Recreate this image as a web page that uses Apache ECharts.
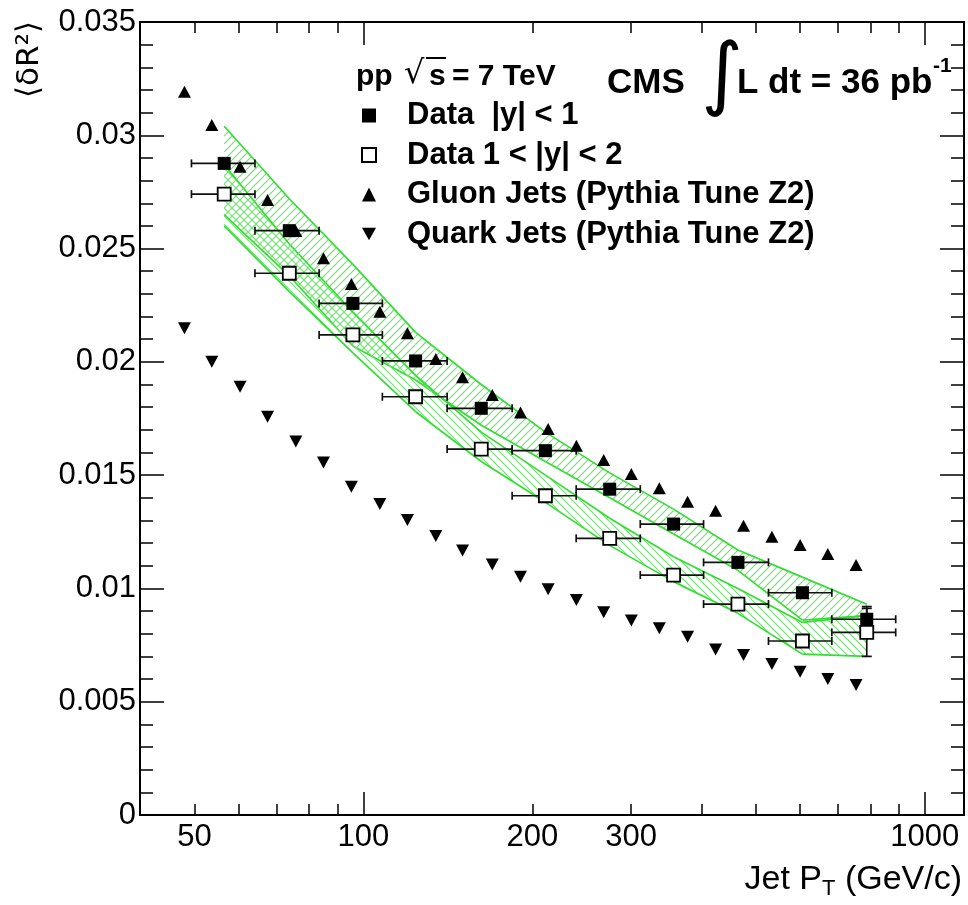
<!DOCTYPE html>
<html><head><meta charset="utf-8">
<script src="https://cdn.jsdelivr.net/npm/echarts@6/dist/echarts.min.js"></script>
<style>html,body{margin:0;padding:0;background:#fff}#c{width:968px;height:905px}</style>
</head><body><div id="c"></div>
<script>
// ---------- data ----------
const dataPt      = [56.5, 73.8, 95.8, 123.9, 162.2, 211.0, 274.7, 357.0, 464.8, 605.6, 788.5];
const dataPtLow   = [49.4, 64.1, 83.4, 108.1, 141.0, 184.1, 239.4, 311.4, 403.7, 526.9, 683.2];
const dataPtHigh  = [64.1, 83.4, 108.1, 141.0, 184.1, 239.4, 311.4, 403.7, 526.9, 683.2, 887.9];
const dataCentral    = [0.02876, 0.02579, 0.02258, 0.02004, 0.01795, 0.01608, 0.01438, 0.01284, 0.01115, 0.00981, 0.00864];
const dataCentralErr = [0.0002, 0.0002, 0.0002, 0.0002, 0.0002, 0.0002, 0.0002, 0.0002, 0.0002, 0.0002, 0.00056];
const dataForward    = [0.02740, 0.02391, 0.02119, 0.01846, 0.01615, 0.01409, 0.01221, 0.01059, 0.00931, 0.00768, 0.00806];
const dataForwardErr = [0.0002, 0.0002, 0.0002, 0.0002, 0.0002, 0.0002, 0.0002, 0.0002, 0.0002, 0.0002, 0.00106];
const sysCentralHigh = [0.0304, 0.0272, 0.0243, 0.0213, 0.0190, 0.0169, 0.0151, 0.0135, 0.0117, 0.0105, 0.0093];
const sysCentralLow  = [0.0265, 0.0238, 0.0207, 0.0192, 0.0172, 0.0156, 0.0140, 0.0124, 0.0108, 0.0086, 0.0088];
const sysForwardHigh = [0.0287, 0.0252, 0.0222, 0.0194, 0.0169, 0.0150, 0.0131, 0.0114, 0.0100, 0.0085, 0.0088];
const sysForwardLow  = [0.0260, 0.0231, 0.0204, 0.0178, 0.0156, 0.0138, 0.0119, 0.0103, 0.0089, 0.0071, 0.0070];
const mcPt      = [48.0, 53.7, 60.3, 67.5, 75.8, 84.9, 95.2, 107.0, 119.8, 134.6, 150.2, 169.7, 190.5, 213.4, 239.6, 268.0, 300.2, 336.7, 378.1, 424.1, 475.6, 534.3, 599.9, 672.1, 754.6];
const gluonJets = [0.03192, 0.03045, 0.02861, 0.02714, 0.02578, 0.02457, 0.02344, 0.02221, 0.02126, 0.02013, 0.01932, 0.01854, 0.01777, 0.01704, 0.01630, 0.01567, 0.01505, 0.01442, 0.01383, 0.01343, 0.01277, 0.01228, 0.01192, 0.01152, 0.01103];
const quarkJets = [0.02148, 0.02001, 0.01890, 0.01758, 0.01648, 0.01556, 0.01449, 0.01373, 0.01302, 0.01231, 0.01167, 0.01106, 0.01052, 0.00996, 0.00949, 0.00895, 0.00858, 0.00824, 0.00787, 0.00731, 0.00706, 0.00666, 0.00632, 0.00600, 0.00574];
const xTickLabels = [50, 100, 200, 300, 1000];
const xMajorTicks = [100, 1000];
const xMinorTicks = [50, 60, 70, 80, 90, 200, 300, 400, 500, 600, 700, 800, 900];
const seriesNames = ['Data  |y| < 1', 'Data 1 < |y| < 2', 'Gluon Jets (Pythia Tune Z2)', 'Quark Jets (Pythia Tune Z2)'];
const X_MIN = 40, X_MAX = 1175, Y_MIN = 0, Y_MAX = 0.035;

// ---------- helpers ----------
const L = v => Math.log10(v);
const FONT = "'Liberation Sans', Arial, Helvetica, sans-serif";
const GREEN = '#33dd33';
const HATCH = '#6ee06e';

// interval of x in [x0,x1] where A + B*(x-x0) >= 0
function halfInterval(A, B, x0, x1) {
  if (Math.abs(B) < 1e-12) return A >= 0 ? [x0, x1] : null;
  const r = x0 - A / B;
  return B > 0 ? [Math.max(x0, r), x1] : [x0, Math.min(x1, r)];
}

// hatch segments (lines y = s*x + c) clipped to the quad between two bins (pixel coords)
function hatchLines(x0, lo0, hi0, x1, lo1, hi1, s, step) {
  const out = [];
  const w = x1 - x0;
  if (w <= 0) return out;
  const kh = (hi1 - hi0) / w, kl = (lo1 - lo0) / w;
  const cands = [];
  for (const xx of [x0, x1]) for (const yy of [lo0, hi0, lo1, hi1]) cands.push(yy - s * xx);
  const cmin = Math.min(...cands), cmax = Math.max(...cands);
  for (let c = Math.floor(cmin / step) * step; c <= cmax; c += step) {
    const i1 = halfInterval(s * x0 + c - hi0, s - kh, x0, x1);   // below the upper edge
    const i2 = halfInterval(lo0 - s * x0 - c, kl - s, x0, x1);   // above the lower edge
    if (!i1 || !i2) continue;
    const a = Math.max(i1[0], i2[0]), b = Math.min(i1[1], i2[1]);
    if (b - a < 0.5) continue;
    out.push({type: 'line', shape: {x1: a, y1: s * a + c, x2: b, y2: s * b + c},
              style: {stroke: HATCH, fill: null, lineWidth: 1.1, opacity: 1}});
  }
  return out;
}

// hatched systematic band: one quad per pair of neighbouring bins
function band(low, high, slope) {
  return {
    type: 'custom', silent: true, z: 1,
    itemStyle: {color: GREEN},
    data: dataPt.map((x, i) => [L(x), low[i], high[i]]),
    encode: {x: 0, y: [1, 2]},
    renderItem(params, api) {
      const i = params.dataIndexInside;
      if (i >= params.dataInsideLength - 1) return null;
      const lo0 = api.coord([api.value(0, i), api.value(1, i)]);
      const hi0 = api.coord([api.value(0, i), api.value(2, i)]);
      const lo1 = api.coord([api.value(0, i + 1), api.value(1, i + 1)]);
      const hi1 = api.coord([api.value(0, i + 1), api.value(2, i + 1)]);
      const ln = {stroke: GREEN, fill: null, lineWidth: 1.7};
      const kids = hatchLines(lo0[0], lo0[1], hi0[1], lo1[0], lo1[1], hi1[1], slope, 8);
      kids.push({type: 'line', shape: {x1: lo0[0], y1: lo0[1], x2: lo1[0], y2: lo1[1]}, style: ln});
      kids.push({type: 'line', shape: {x1: hi0[0], y1: hi0[1], x2: hi1[0], y2: hi1[1]}, style: ln});
      return {type: 'group', children: kids};
    }
  };
}

function errorBars(vals, errs) {
  return {
    type: 'custom', silent: true, z: 3,
    itemStyle: {color: '#111'},
    data: dataPt.map((x, i) => [L(dataPtLow[i]), L(dataPtHigh[i]), vals[i], vals[i] - errs[i], vals[i] + errs[i], L(x)]),
    encode: {x: [0, 1], y: [2, 3, 4]},
    renderItem(params, api) {
      const y = api.value(2);
      const a = api.coord([api.value(0), y]);
      const b = api.coord([api.value(1), y]);
      const hi = api.coord([api.value(5), api.value(4)]);
      const lo = api.coord([api.value(5), api.value(3)]);
      const st = {stroke: '#111', lineWidth: 1.7};
      const ch = 4, cw = 5;
      return {type: 'group', children: [
        {type: 'line', shape: {x1: a[0], y1: a[1], x2: b[0], y2: b[1]}, style: st},
        {type: 'line', shape: {x1: a[0], y1: a[1] - ch, x2: a[0], y2: a[1] + ch}, style: st},
        {type: 'line', shape: {x1: b[0], y1: b[1] - ch, x2: b[0], y2: b[1] + ch}, style: st},
        {type: 'line', shape: {x1: hi[0], y1: hi[1], x2: lo[0], y2: lo[1]}, style: st},
        {type: 'line', shape: {x1: hi[0] - cw, y1: hi[1], x2: hi[0] + cw, y2: hi[1]}, style: st},
        {type: 'line', shape: {x1: lo[0] - cw, y1: lo[1], x2: lo[0] + cw, y2: lo[1]}, style: st}
      ]};
    }
  };
}

const axLine = {color: '#000', width: 2};
const tkLine = {color: '#000', width: 1.5};
const xBase = {type: 'value', min: L(X_MIN), max: L(X_MAX), splitLine: {show: false}};
const yBase = {type: 'value', min: Y_MIN, max: Y_MAX, interval: 0.005, splitLine: {show: false}, minorSplitLine: {show: false}};

const chart = echarts.init(document.getElementById('c'), null, {renderer: 'canvas'});
chart.setOption({
  animation: false,
  backgroundColor: '#fff',
  color: [GREEN, GREEN, '#111', '#111', '#000', '#000', '#000', '#000'],
  grid: {left: 140, right: 4, top: 22, bottom: 90, containLabel: false, outerBoundsMode: 'none'},
  xAxis: [
    Object.assign({}, xBase, {position: 'bottom',
      axisLine: {show: true, onZero: false, lineStyle: axLine},
      axisTick: {show: true, inside: true, length: 23, customValues: xMajorTicks.map(L), lineStyle: tkLine},
      axisLabel: {show: true, customValues: xTickLabels.map(L), margin: 7,
        formatter: v => String(Math.round(Math.pow(10, v))),
        fontFamily: FONT, fontSize: 31, color: '#000'}}),
    Object.assign({}, xBase, {position: 'bottom',
      axisLine: {show: false, onZero: false},
      axisTick: {show: true, inside: true, length: 11, customValues: xMinorTicks.map(L), lineStyle: tkLine},
      axisLabel: {show: false}}),
    Object.assign({}, xBase, {position: 'top',
      axisLine: {show: true, onZero: false, lineStyle: axLine},
      axisTick: {show: true, inside: true, length: 23, customValues: xMajorTicks.map(L), lineStyle: tkLine},
      axisLabel: {show: false}}),
    Object.assign({}, xBase, {position: 'top',
      axisLine: {show: false, onZero: false},
      axisTick: {show: true, inside: true, length: 11, customValues: xMinorTicks.map(L), lineStyle: tkLine},
      axisLabel: {show: false}})
  ],
  yAxis: [
    Object.assign({}, yBase, {position: 'left',
      axisLine: {show: true, onZero: false, lineStyle: axLine},
      axisTick: {show: true, inside: true, length: 24, lineStyle: tkLine},
      minorTick: {show: true, splitNumber: 5, length: 13, lineStyle: tkLine},
      axisLabel: {show: true, margin: 4, fontFamily: FONT, fontSize: 31, color: '#000',
        formatter: v => String(+v.toFixed(3))}}),
    Object.assign({}, yBase, {position: 'right',
      axisLine: {show: true, onZero: false, lineStyle: axLine},
      axisTick: {show: true, inside: true, length: 24, lineStyle: tkLine},
      minorTick: {show: true, splitNumber: 5, length: 13, lineStyle: tkLine},
      axisLabel: {show: false}})
  ],
  legend: {
    orient: 'vertical', left: 361, top: 100, padding: 0, itemWidth: 14, itemHeight: 14, itemGap: 8.5,
    selectedMode: false, data: seriesNames,
    textStyle: {fontFamily: FONT, fontWeight: 'bold', fontSize: 31, color: '#000', lineHeight: 30, padding: [0, 0, 0, 26]}
  },
  series: [
    band(sysCentralLow, sysCentralHigh, -1),
    band(sysForwardLow, sysForwardHigh, 1),
    errorBars(dataCentral, dataCentralErr),
    errorBars(dataForward, dataForwardErr),
    {name: seriesNames[0], type: 'scatter', z: 5, symbol: 'rect', symbolSize: 13,
     itemStyle: {color: '#000', opacity: 1}, data: dataPt.map((x, i) => [L(x), dataCentral[i]])},
    {name: seriesNames[1], type: 'scatter', z: 5, symbol: 'rect', symbolSize: 13,
     itemStyle: {color: '#fff', borderColor: '#000', borderWidth: 1.8, opacity: 1}, data: dataPt.map((x, i) => [L(x), dataForward[i]])},
    {name: seriesNames[2], type: 'scatter', z: 5, symbol: 'triangle', symbolSize: [13, 12],
     itemStyle: {color: '#000', opacity: 1}, data: mcPt.map((x, i) => [L(x), gluonJets[i]])},
    {name: seriesNames[3], type: 'scatter', z: 5, symbol: 'path://M0,0L10,0L5,9Z', symbolSize: [13, 12],
     itemStyle: {color: '#000', opacity: 1}, data: mcPt.map((x, i) => [L(x), quarkJets[i]])}
  ],
  graphic: [
    {type: 'text', x: 356, y: 77, style: {text: 'pp', fontFamily: FONT, fontWeight: 'bold', fontSize: 30, fill: '#000', align: 'left', verticalAlign: 'middle'}},
    {type: 'text', x: 404, y: 75, style: {text: '√', fontFamily: "'DejaVu Sans', sans-serif", fontSize: 32, fill: '#000', align: 'left', verticalAlign: 'middle'}},
    {type: 'text', x: 429, y: 77, style: {text: 's', fontFamily: FONT, fontWeight: 'bold', fontSize: 30, fill: '#000', align: 'left', verticalAlign: 'middle'}},
    {type: 'line', shape: {x1: 426, y1: 58, x2: 446, y2: 58}, style: {stroke: '#000', lineWidth: 2}},
    {type: 'text', x: 452, y: 77, style: {text: '= 7 TeV', fontFamily: FONT, fontWeight: 'bold', fontSize: 30, fill: '#000', align: 'left', verticalAlign: 'middle'}},
    {type: 'text', x: 607, y: 83, style: {text: 'CMS', fontFamily: FONT, fontWeight: 'bold', fontSize: 35, fill: '#000', align: 'left', verticalAlign: 'middle'}},
    {type: 'text', x: 722, y: 79, style: {text: '∫', fontFamily: "'DejaVu Sans', sans-serif", fontSize: 80, fill: '#000', align: 'center', verticalAlign: 'middle'}},
    {type: 'text', x: 737, y: 83, style: {text: 'L dt = 36 pb', fontFamily: FONT, fontWeight: 'bold', fontSize: 35, fill: '#000', align: 'left', verticalAlign: 'middle'}},
    {type: 'text', x: 933, y: 66, style: {text: '-1', fontFamily: FONT, fontWeight: 'bold', fontSize: 21, fill: '#000', align: 'left', verticalAlign: 'middle'}},
    {type: 'text', x: 962, y: 880, style: {text: '{a|Jet P}{b|T}{a| (GeV/c)}', align: 'right', verticalAlign: 'middle',
      rich: {a: {fontFamily: FONT, fontSize: 34, fill: '#000', lineHeight: 40},
             b: {fontFamily: FONT, fontSize: 22, fill: '#000', lineHeight: 22, verticalAlign: 'bottom'}}}},
    {type: 'text', x: 30, y: 21, rotation: Math.PI / 2, style: {text: '⟨δR²⟩', fontFamily: "'DejaVu Sans', " + FONT, fontSize: 31, fill: '#000', align: 'right', verticalAlign: 'middle'}}
  ]
});
</script>
</body></html>
